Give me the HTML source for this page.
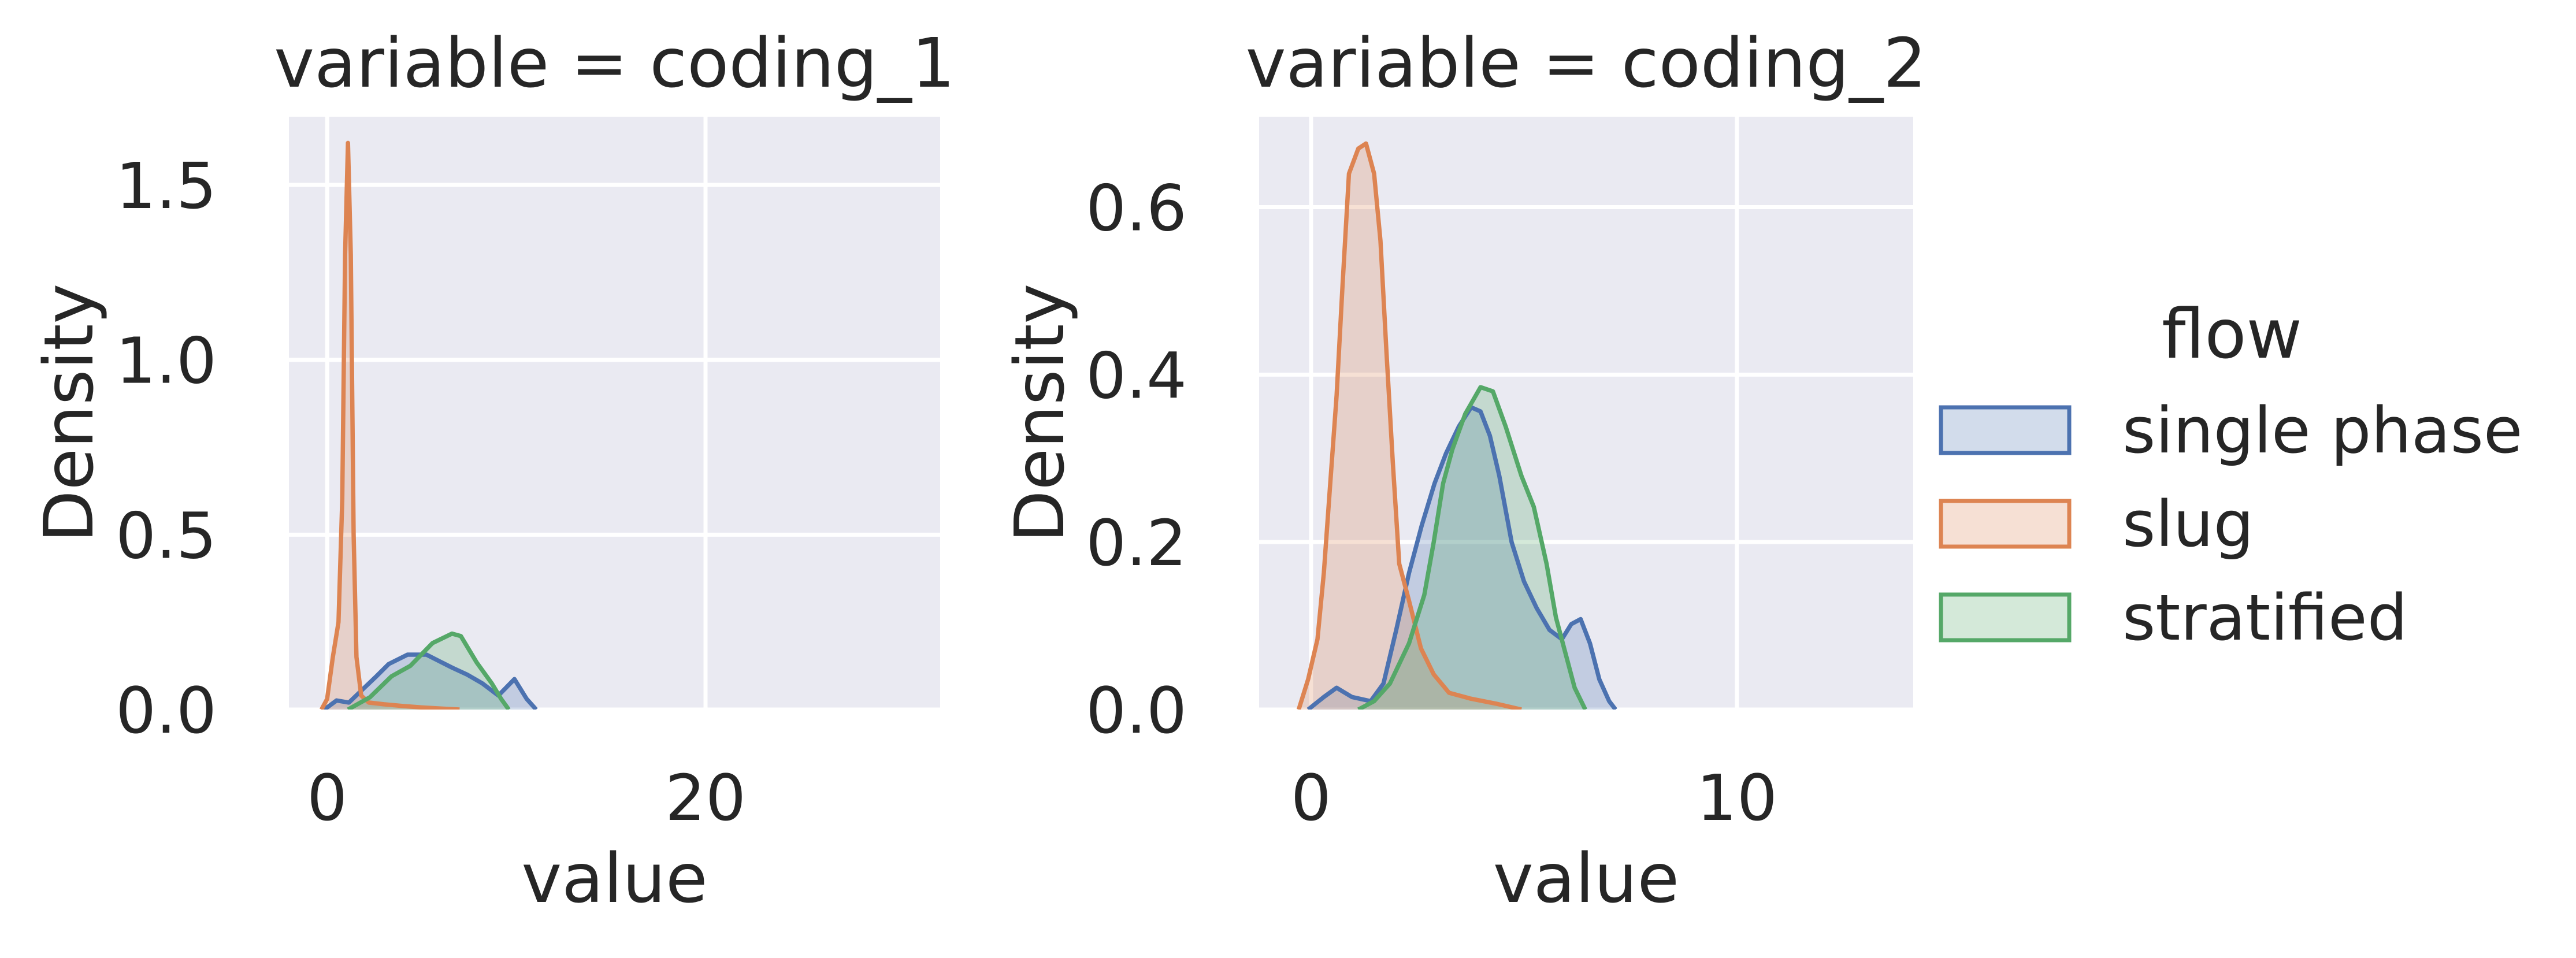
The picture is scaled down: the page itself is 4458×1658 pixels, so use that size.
<!DOCTYPE html>
<html><head><meta charset="utf-8">
<style>
html,body{margin:0;padding:0;background:#fff;}
svg{display:block;font-family:"DejaVu Sans","Liberation Sans",sans-serif;}
</style></head>
<body>
<svg id="chart" width="4458" height="1658" viewBox="0 0 4458 1658" xmlns="http://www.w3.org/2000/svg"></svg>
<script>
const seriesNames = ["single phase","slug","stratified"];
const colors = ["#4c72b0","#dd8452","#55a868"];
// panel 1 (coding_1)
const p1BlueX = [-0.15,0.5,1.15,2.6,3.25,4.25,5.25,6.6,7.4,8.2,9.05,9.9,10.55,11.05];
const p1BlueY = [0,0.026,0.02,0.095,0.13,0.157,0.157,0.12,0.10,0.075,0.04,0.087,0.03,0];
const p1OrangeX = [-0.3,0,0.3,0.6,0.8,0.95,1.1,1.25,1.4,1.55,1.8,2.2,3,4,5,6,7];
const p1OrangeY = [0,0.03,0.15,0.25,0.6,1.3,1.62,1.3,0.5,0.15,0.04,0.02,0.015,0.01,0.006,0.003,0];
const p1GreenX = [1.1,2.26,3.4,4.4,5.57,6.6,7.07,7.9,8.7,9.2,9.6];
const p1GreenY = [0,0.035,0.095,0.125,0.19,0.217,0.21,0.135,0.075,0.03,0];
// panel 2 (coding_2)
const p2BlueX = [-0.07,0.3,0.6,0.96,1.4,1.7,2.0,2.3,2.6,2.9,3.17,3.47,3.76,3.98,4.2,4.42,4.71,5.0,5.3,5.6,5.89,6.11,6.33,6.55,6.77,7.0,7.15];
const p2BlueY = [0,0.015,0.026,0.015,0.01,0.031,0.095,0.163,0.22,0.27,0.306,0.338,0.361,0.356,0.327,0.279,0.2,0.153,0.121,0.095,0.084,0.102,0.108,0.079,0.036,0.01,0];
const p2OrangeX = [-0.29,-0.07,0.15,0.3,0.45,0.6,0.74,0.89,1.11,1.29,1.48,1.63,1.77,1.92,2.07,2.3,2.58,2.88,3.24,3.75,4.35,4.94];
const p2OrangeY = [0,0.036,0.084,0.163,0.27,0.375,0.507,0.64,0.67,0.676,0.64,0.56,0.427,0.295,0.174,0.13,0.073,0.042,0.02,0.013,0.007,0];
const p2GreenX = [1.11,1.48,1.85,2.3,2.66,2.88,3.1,3.32,3.62,3.98,4.27,4.57,4.94,5.23,5.53,5.75,5.97,6.19,6.44];
const p2GreenY = [0,0.01,0.031,0.079,0.137,0.2,0.27,0.311,0.353,0.385,0.38,0.338,0.279,0.242,0.174,0.11,0.068,0.026,0];
const p1XTicks = [0,20];
const p1YTicks = [0,0.5,1.0,1.5];
const p1YLabels = ["0.0","0.5","1.0","1.5"];
const p2XTicks = [0,10];
const p2YTicks = [0,0.2,0.4,0.6];
const p2YLabels = ["0.0","0.2","0.4","0.6"];

const NS="http://www.w3.org/2000/svg";
const svg=document.getElementById('chart');
function mk(tag,attrs,parent){const e=document.createElementNS(NS,tag);for(const k in attrs)e.setAttribute(k,attrs[k]);(parent||svg).appendChild(e);return e;}

function panel(cfg){
  const g=mk('g',{});
  
  
  const sx=v=>cfg.x0+(v-cfg.xmin)/(cfg.xmax-cfg.xmin)*(cfg.x1-cfg.x0);
  const sy=v=>cfg.y1-(v-cfg.ymin)/(cfg.ymax-cfg.ymin)*(cfg.y1-cfg.y0);
  const bg=mk('rect',{x:cfg.x0,y:cfg.y0,width:cfg.x1-cfg.x0,height:cfg.y1-cfg.y0,fill:'#eaeaf2'},g);
  
  
  cfg.xticks.forEach(t=>{const l=mk('line',{x1:sx(t),x2:sx(t),y1:cfg.y0,y2:cfg.y1,stroke:'#fff','stroke-width':7},g);
    
    
    const tx=mk('text',{x:sx(t),y:1419,'font-size':110,fill:'#262626','text-anchor':'middle'},g);tx.textContent=String(t);
    
    });
  cfg.yticks.forEach((t,i)=>{const l=mk('line',{x1:cfg.x0,x2:cfg.x1,y1:sy(t),y2:sy(t),stroke:'#fff','stroke-width':7},g);
    
    
    const tx=mk('text',{x:cfg.x0-125,y:sy(t)+40,'font-size':110,fill:'#262626','text-anchor':'end'},g);tx.textContent=cfg.ylabels[i];
    
    });
  const clipId='clip'+cfg.name;
  const cp=mk('clipPath',{id:clipId},g);mk('rect',{x:cfg.x0,y:cfg.y0,width:cfg.x1-cfg.x0,height:cfg.y1-cfg.y0},cp);
  const cg=mk('g',{'clip-path':'url(#'+clipId+')'},g);
  cfg.series.forEach((s,i)=>{
    const pts=s.x.map((v,j)=>sx(v).toFixed(1)+','+sy(s.y[j]).toFixed(1));
    const a=mk('path',{d:'M'+sx(s.x[0])+','+sy(0)+' L'+pts.join(' L')+' L'+sx(s.x[s.x.length-1])+','+sy(0)+'Z',fill:colors[i],'fill-opacity':0.25,stroke:'none'},cg);
    
    
  });
  cfg.series.forEach((s,i)=>{
    const pts=s.x.map((v,j)=>sx(v).toFixed(1)+','+sy(s.y[j]).toFixed(1));
    const p=mk('path',{d:'M'+pts.join(' L'),fill:'none',stroke:colors[i],'stroke-width':7.5,'stroke-linejoin':'round'},cg);
    
    
  });
  const t=mk('text',{x:(cfg.x0+cfg.x1)/2,y:150,'font-size':118,fill:'#262626','text-anchor':'middle'},g);t.textContent=cfg.title;
  
  
  const xl=mk('text',{x:(cfg.x0+cfg.x1)/2,y:1561,'font-size':118,fill:'#262626','text-anchor':'middle'},g);xl.textContent='value';
  
  
  const yl=mk('text',{x:0,y:0,'font-size':118,fill:'#262626','text-anchor':'middle',transform:'translate('+cfg.ylx+','+((cfg.y0+cfg.y1)/2)+') rotate(-90)'},g);yl.textContent='Density';
  
  
}
panel({name:'panel-coding-1',title:'variable = coding_1',x0:500,x1:1627,y0:202,y1:1228,xmin:-2.02,xmax:32.4,ymin:0,ymax:1.695,
  xticks:p1XTicks,yticks:p1YTicks,ylabels:p1YLabels,ylx:160,
  series:[{x:p1BlueX,y:p1BlueY},{x:p1OrangeX,y:p1OrangeY},{x:p1GreenX,y:p1GreenY}]});
panel({name:'panel-coding-2',title:'variable = coding_2',x0:2179,x1:3311,y0:202,y1:1228,xmin:-1.22,xmax:14.14,ymin:0,ymax:0.708,
  xticks:p2XTicks,yticks:p2YTicks,ylabels:p2YLabels,ylx:1840,
  series:[{x:p2BlueX,y:p2BlueY},{x:p2OrangeX,y:p2OrangeY},{x:p2GreenX,y:p2GreenY}]});

// legend
const lg=mk('g',{});


const lt=mk('text',{x:3741,y:619,'font-size':118,fill:'#262626'},lg);lt.textContent='flow';


seriesNames.forEach((n,i)=>{
  const yTop=702+i*162;
  const e=mk('g',{},lg);
  
  
  mk('rect',{x:3359,y:yTop+3,width:222,height:79,fill:colors[i],'fill-opacity':0.25,stroke:colors[i],'stroke-width':7},e);
  const t=mk('text',{x:3673,y:yTop+81,'font-size':110,fill:'#262626'},e);t.textContent=n;
});
</script>
</body></html>
